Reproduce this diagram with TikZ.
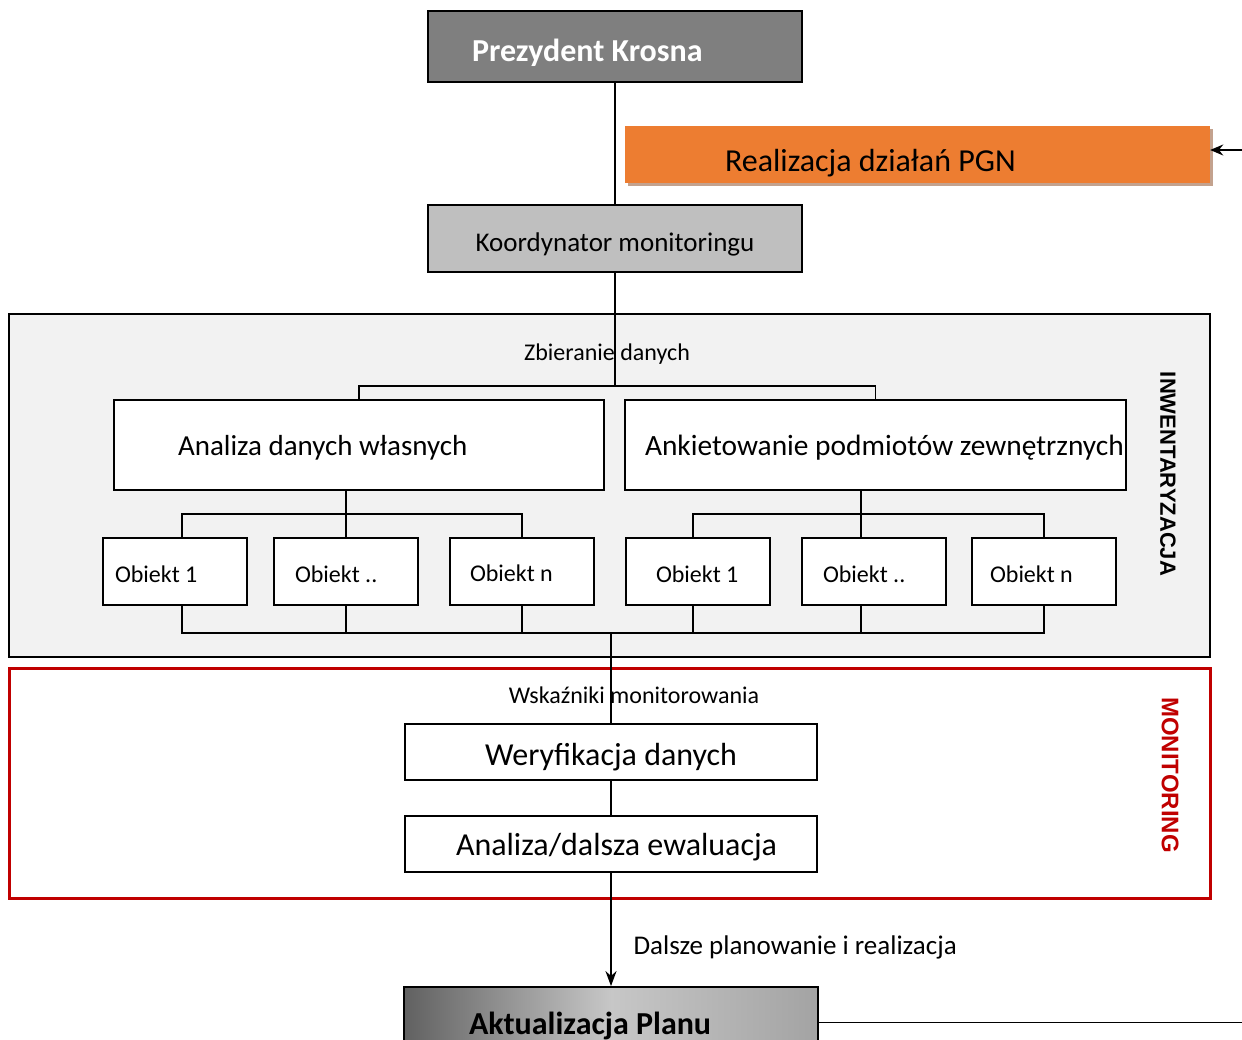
\documentclass[tikz,border=0pt]{standalone}
\usepackage{fontspec}
\setmainfont{Carlito}
\newfontfamily\arialfont{Liberation Sans}
\usepackage{tikz}
\usetikzlibrary{arrows.meta}
\usetikzlibrary{shadows}

\definecolor{prezgray}{HTML}{7F7F7F}
\definecolor{koordgray}{HTML}{BFBFBF}
\definecolor{pgnorange}{HTML}{ED7D31}
\definecolor{pgnshadow}{HTML}{C3A28E}
\definecolor{inwfill}{HTML}{F2F2F2}
\definecolor{monred}{HTML}{C00000}

\newcommand{\fs}[1]{\fontsize{#1}{#1}\selectfont}
% width, left pad, drop, text
\newcommand{\inbox}[4]{\raisebox{-#3}[\height][\depth]{\makebox[#1][l]{\hspace*{#2}#4}}}
% drop, text
\newcommand{\cbox}[2]{\raisebox{-#1}[\height][\depth]{#2}}

\tikzset{
	box/.style={draw, line width=1.8pt, fill=white, inner sep=0pt},
	obiekt/.style={box, minimum width=144pt, minimum height=67pt, font=\fs{24}},
	conn/.style={line width=1.8pt},
}

\begin{document}
\begin{tikzpicture}[x=1pt,y=-1pt]
\useasboundingbox (0,0) rectangle (1242,1040);
\clip (0,0) rectangle (1242,1040);

\filldraw[fill=inwfill, line width=2pt] (9,314) rectangle (1210,657);
\draw[monred, line width=3pt] (9,668) rectangle (1210,898);
\node[rotate=-90, font=\arialfont\bfseries\fs{22}] (inwlab) at (1168,474) {INWENTARYZACJA};
\node[rotate=-90, font=\arialfont\bfseries\fs{24}, text=monred] (monlab) at (1170,775) {MONITORING};

\node[box, fill=prezgray, minimum height=71pt, text=white, font=\bfseries\fs{32}] (prez) at (615,46.5) {\inbox{374pt}{44pt}{6pt}{Prezydent Krosna}};
\node[box, fill=koordgray, minimum width=374pt, minimum height=67pt, font=\fs{27}] (koord) at (615,238.5) {\cbox{6pt}{Koordynator monitoringu}};
\node[fill=pgnorange, minimum height=57pt, inner sep=0pt, font=\fs{32},
	drop shadow={shadow xshift=3pt, shadow yshift=-3pt, fill=pgnshadow, opacity=1}] (realiz) at (917.5,154.5) {\inbox{585pt}{100pt}{9pt}{Realizacja działań PGN}};
\coordinate (pgnin) at (1250,150);
\draw[conn, -{Stealth[length=13pt,width=11pt]}] (pgnin) -- (pgnin -| realiz.east);
\draw[conn] (prez.south) -- (koord.north);

\node[font=\fs{24}] (zbtxt) at (607,354) {Zbieranie danych};
\coordinate (zb) at (615,386);
\draw[conn] (koord.south) -- (zb);

\node[box, minimum height=90pt, font=\fs{29}] (analiza) at (359,445) {\inbox{490pt}{64pt}{3pt}{Analiza danych własnych}};
\node[box, minimum height=90pt, font=\fs{29.4}] (ankieta) at (875.5,445) {\inbox{501pt}{20pt}{3pt}{Ankietowanie podmiotów zewnętrznych}};
\draw[conn] (analiza.north) |- (zb) -| (ankieta.north);

\node[obiekt] (a1) at (175,571.5) {\inbox{144pt}{12pt}{3pt}{Obiekt 1}};
\node[obiekt] (a2) at (346,571.5) {\inbox{144pt}{21pt}{3pt}{Obiekt ..}};
\node[obiekt] (a3) at (522,571.5) {\inbox{144pt}{20pt}{2pt}{Obiekt n}};
\node[obiekt] (b1) at (698,571.5) {\inbox{144pt}{30pt}{3pt}{Obiekt 1}};
\node[obiekt] (b2) at (874,571.5) {\inbox{144pt}{21pt}{3pt}{Obiekt ..}};
\node[obiekt] (b3) at (1044,571.5) {\inbox{144pt}{18pt}{3pt}{Obiekt n}};

\coordinate (lj) at (346,514);
\coordinate (rj) at (861,514);
\coordinate (sb) at (611,633);
\draw[conn] (analiza.south -| lj) -- (a2.north);
\draw[conn] ([xshift=7pt]a1.north) -- ([xshift=7pt]a1.north |- lj) -- (a3.north |- lj) -- (a3.north);
\draw[conn] (ankieta.south -| rj) -- (rj |- b2.north);
\draw[conn] ([xshift=-5pt]b1.north) -- ([xshift=-5pt]b1.north |- rj) -- (b3.north |- rj) -- (b3.north);
\draw[conn] ([xshift=7pt]a1.south) -- ([xshift=7pt]a1.south |- sb) -- (b3.south |- sb) -- (b3.south);
\foreach \n in {a2,a3} {
	\draw[conn] (\n.south) -- (\n.south |- sb);
}
\draw[conn] ([xshift=-5pt]b1.south) -- ([xshift=-5pt]b1.south |- sb);
\draw[conn] (rj |- b2.south) -- (rj |- sb);

\node[font=\fs{24}] (wsktxt) at (634,695) {Wskaźniki monitorowania};
\node[box, minimum width=412pt, minimum height=56pt, font=\fs{32}] (weryf) at (611,752) {\cbox{5pt}{Weryfikacja danych}};
\node[box, minimum height=56pt, font=\fs{32}] (ewal) at (611,844) {\inbox{412pt}{51pt}{3pt}{Analiza/dalsza ewaluacja}};
\draw[conn] (sb) -- (weryf.north);
\draw[conn] (weryf.south) -- (ewal.north);

\node[box, minimum height=71pt, left color=black!62, right color=black!36, middle color=black!22, font=\bfseries\fs{32}] (aktual) at (611,1022.5) {\inbox{414pt}{65pt}{3pt}{Aktualizacja Planu}};
\draw[line width=2pt, -{Stealth[length=15pt,width=11pt]}] (ewal.south) -- (aktual.north);
\node[anchor=west, font=\fs{27}] (dalsze) at (630,947) {Dalsze planowanie i realizacja};
\coordinate (aktout) at (1250,1022.5);
\draw[line width=1.2pt] (aktual.east) -- (aktout);
\end{tikzpicture}
\end{document}
